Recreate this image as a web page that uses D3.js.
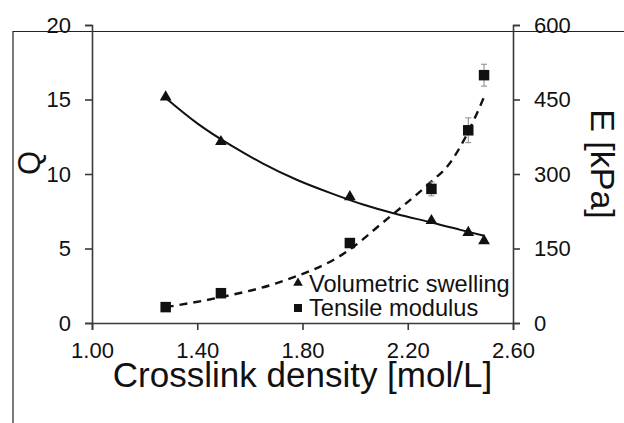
<!DOCTYPE html>
<html>
<head>
<meta charset="utf-8">
<script src="https://cdn.jsdelivr.net/npm/d3@7"></script>
<style>
  body { margin: 0; background: #fff; }
  svg { display: block; font-family: "Liberation Sans", Arial, sans-serif; }
</style>
</head>
<body>
<div id="chart"></div>
<script>
// measured points
var density = [1.28, 1.49, 1.98, 2.29, 2.43, 2.49];
var swelling = [15.1, 12.1, 8.4, 6.8, 6.0, 5.45];
var modulus = [32, 60, 161, 270, 388, 499];
var modulusErr = [3, 3, 5, 14, 25, 22];

// fitted trend lines
var swellFitX = [1.28, 1.40, 1.53, 1.65, 1.78, 1.91, 2.03, 2.16, 2.29, 2.40, 2.49];
var swellFitY = [15.1, 13.4, 11.9, 10.7, 9.6, 8.7, 7.95, 7.3, 6.75, 6.25, 5.85];
var modFitX = [1.28, 1.49, 1.70, 1.98, 2.10, 2.29, 2.35, 2.43, 2.49];
var modFitY = [32, 52, 80, 148, 200, 285, 315, 385, 455];

var xTicks = [1.0, 1.4, 1.8, 2.2, 2.6];
var qTicks = [0, 5, 10, 15, 20];
var eTicks = [0, 150, 300, 450, 600];
var legendLabels = ["Volumetric swelling", "Tensile modulus"];

var W = 624, H = 423;
var margin = {left: 92, right: 111, top: 25, bottom: 100};

var svg = d3.select("#chart").append("svg")
  .attr("width", W).attr("height", H);

// frame of the cropped figure
svg.append("path")
  .attr("d", "M13," + H + "V31.5H" + W)
  .attr("fill", "none").attr("stroke", "#222").attr("stroke-width", 1.2);

var x = d3.scaleLinear().domain([1.0, 2.6]).range([margin.left, W - margin.right]);
var yQ = d3.scaleLinear().domain([0, 20]).range([H - margin.bottom, margin.top]);
var yE = d3.scaleLinear().domain([0, 600]).range([H - margin.bottom, margin.top]);

function styleAxis(g) {
  g.selectAll("path, line").attr("stroke", "#3a3a3a").attr("stroke-width", 1.6);
  g.selectAll("text").attr("fill", "#111").style("font-size", "22px")
    .style("font-family", "'Liberation Sans', Arial, sans-serif");
}

svg.append("g")
  .attr("transform", "translate(0," + (H - margin.bottom) + ")")
  .call(d3.axisBottom(x).tickValues(xTicks).tickFormat(d3.format(".2f")).tickSize(7).tickPadding(10))
  .call(styleAxis)
  .selectAll("text").attr("dy", "0.8em");

svg.append("g")
  .attr("transform", "translate(" + margin.left + ",0)")
  .call(d3.axisLeft(yQ).tickValues(qTicks).tickSize(7).tickPadding(14))
  .call(styleAxis);

svg.append("g")
  .attr("transform", "translate(" + (W - margin.right) + ",0)")
  .call(d3.axisRight(yE).tickValues(eTicks).tickSize(7).tickPadding(14))
  .call(styleAxis);

// axis titles
svg.append("text")
  .attr("x", x(1.8)).attr("y", 387)
  .attr("text-anchor", "middle")
  .style("font-size", "35px").attr("fill", "#111")
  .text("Crosslink density [mol/L]");

svg.append("text")
  .attr("transform", "translate(40,163) rotate(-90)")
  .attr("text-anchor", "middle")
  .style("font-size", "31px").attr("fill", "#111")
  .text("Q");

svg.append("text")
  .attr("transform", "translate(591,164) rotate(90)")
  .attr("text-anchor", "middle")
  .style("font-size", "34px").attr("fill", "#111")
  .text("E [kPa]");

// fit lines
var swellLine = d3.line()
  .x(function (d, i) { return x(swellFitX[i]); })
  .y(function (d) { return yQ(d); })
  .curve(d3.curveNatural);
svg.append("path")
  .attr("d", swellLine(swellFitY))
  .attr("fill", "none").attr("stroke", "#111").attr("stroke-width", 2);

var modLine = d3.line()
  .x(function (d, i) { return x(modFitX[i]); })
  .y(function (d) { return yE(d); })
  .curve(d3.curveMonotoneX);
svg.append("path")
  .attr("d", modLine(modFitY))
  .attr("fill", "none").attr("stroke", "#111").attr("stroke-width", 2.4)
  .attr("stroke-dasharray", "8,6");

// error bars
var err = svg.append("g").attr("stroke", "#888").attr("stroke-width", 1);
density.forEach(function (d, i) {
  var top = yE(modulus[i] + modulusErr[i]), bot = yE(modulus[i] - modulusErr[i]);
  err.append("line").attr("x1", x(d)).attr("x2", x(d)).attr("y1", top).attr("y2", bot);
  err.append("line").attr("x1", x(d) - 3).attr("x2", x(d) + 3).attr("y1", top).attr("y2", top);
  err.append("line").attr("x1", x(d) - 3).attr("x2", x(d) + 3).attr("y1", bot).attr("y2", bot);
});

var tri = d3.symbol().type(d3.symbolTriangle).size(60);
var sq = d3.symbol().type(d3.symbolSquare).size(110);

svg.append("g").selectAll("path")
  .data(swelling).enter().append("path")
  .attr("d", tri)
  .attr("transform", function (d, i) { return "translate(" + x(density[i]) + "," + (yQ(d) - 1) + ")"; })
  .attr("fill", "#111");

svg.append("g").selectAll("path")
  .data(modulus).enter().append("path")
  .attr("d", sq)
  .attr("transform", function (d, i) { return "translate(" + x(density[i]) + "," + yE(d) + ")"; })
  .attr("fill", "#111");

// legend
var leg = svg.append("g").attr("transform", "translate(298,0)");
leg.append("path").attr("d", d3.symbol().type(d3.symbolTriangle).size(40))
  .attr("transform", "translate(0,283)").attr("fill", "#111");
leg.append("path").attr("d", d3.symbol().type(d3.symbolSquare).size(64))
  .attr("transform", "translate(0,308)").attr("fill", "#111");
leg.selectAll("text").data(legendLabels).enter().append("text")
  .attr("x", 11).attr("y", function (d, i) { return 292 + i * 24; })
  .style("font-size", "23.6px").attr("fill", "#111")
  .text(function (d) { return d; });
</script>
</body>
</html>
